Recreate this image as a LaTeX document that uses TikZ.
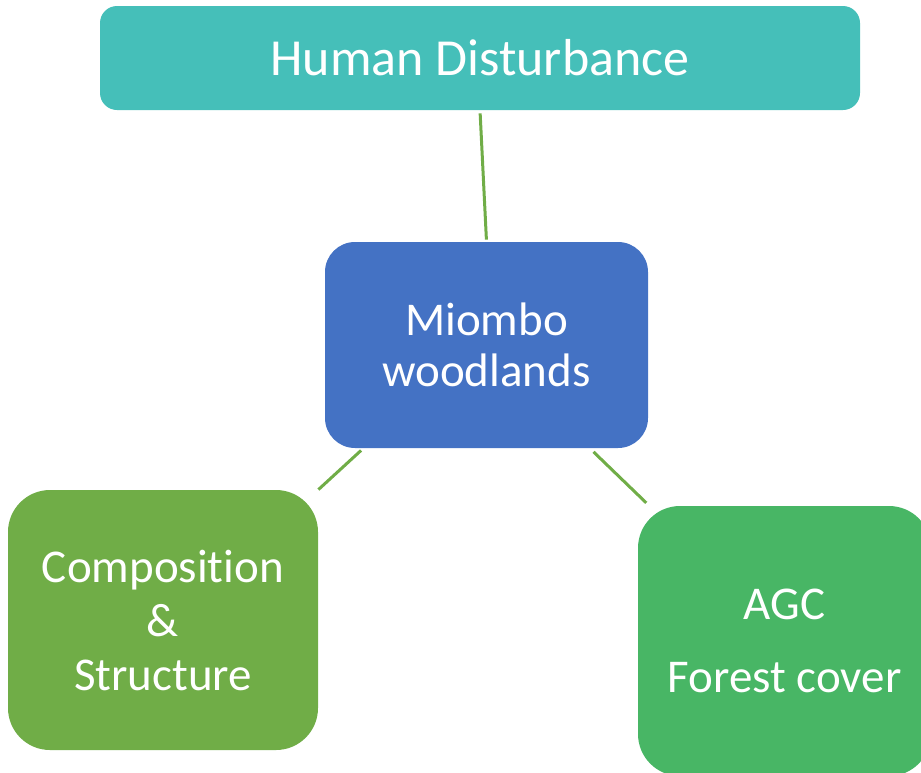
\documentclass[tikz,border=0pt]{standalone}
\usepackage{fontspec}
\setmainfont[Ligatures={NoCommon}]{Carlito}
\usepackage{xcolor}
\usetikzlibrary{arrows, arrows.meta}

\definecolor{hdteal}{RGB}{69,191,185}
\definecolor{mwblue}{RGB}{68,114,196}
\definecolor{csgreen}{RGB}{112,173,71}
\definecolor{agcgreen}{RGB}{72,182,101}

\tikzset{
  box/.style={inner sep=0pt, text=white, align=center},
  link/.style={draw=csgreen, line width=1.5pt}
}

\begin{document}
\begin{tikzpicture}[x=0.5pt,y=-0.5pt]
\useasboundingbox (0,0) rectangle (921,772);
% boxes
\node[box, fill=hdteal, rounded corners=8.5pt, minimum width=380pt, minimum height=52pt,
      font=\fontsize{26}{30}\selectfont] (hd) at (480,58) {Human Disturbance};
\node[box, fill=mwblue, rounded corners=15pt, minimum width=161.5pt, minimum height=103pt,
      font=\fontsize{23.5}{25.5}\selectfont] (mw) at (486.5,345) {Miombo\\woodlands};
\node[box, fill=csgreen, rounded corners=21pt, minimum width=155pt, minimum height=130pt,
      font=\fontsize{23.5}{27}\selectfont] (cs) at (163,620) {Composition\\\&\\Structure};
\node[box, fill=agcgreen, rounded corners=21pt, minimum width=146.5pt, minimum height=135pt,
      font=\fontsize{23.5}{36.5}\selectfont] (agc) at (784.5,641) {AGC\\Forest cover};
% connectors
\draw[link, shorten <=1.5pt, shorten >=1pt] (hd.south) -- (mw.north);
\draw[link, shorten <=1.5pt] (mw.-140) -- (cs.north east);
\draw[link, shorten <=2.5pt, shorten >=2pt] (mw.-45) -- (agc.135);
\end{tikzpicture}
\end{document}
